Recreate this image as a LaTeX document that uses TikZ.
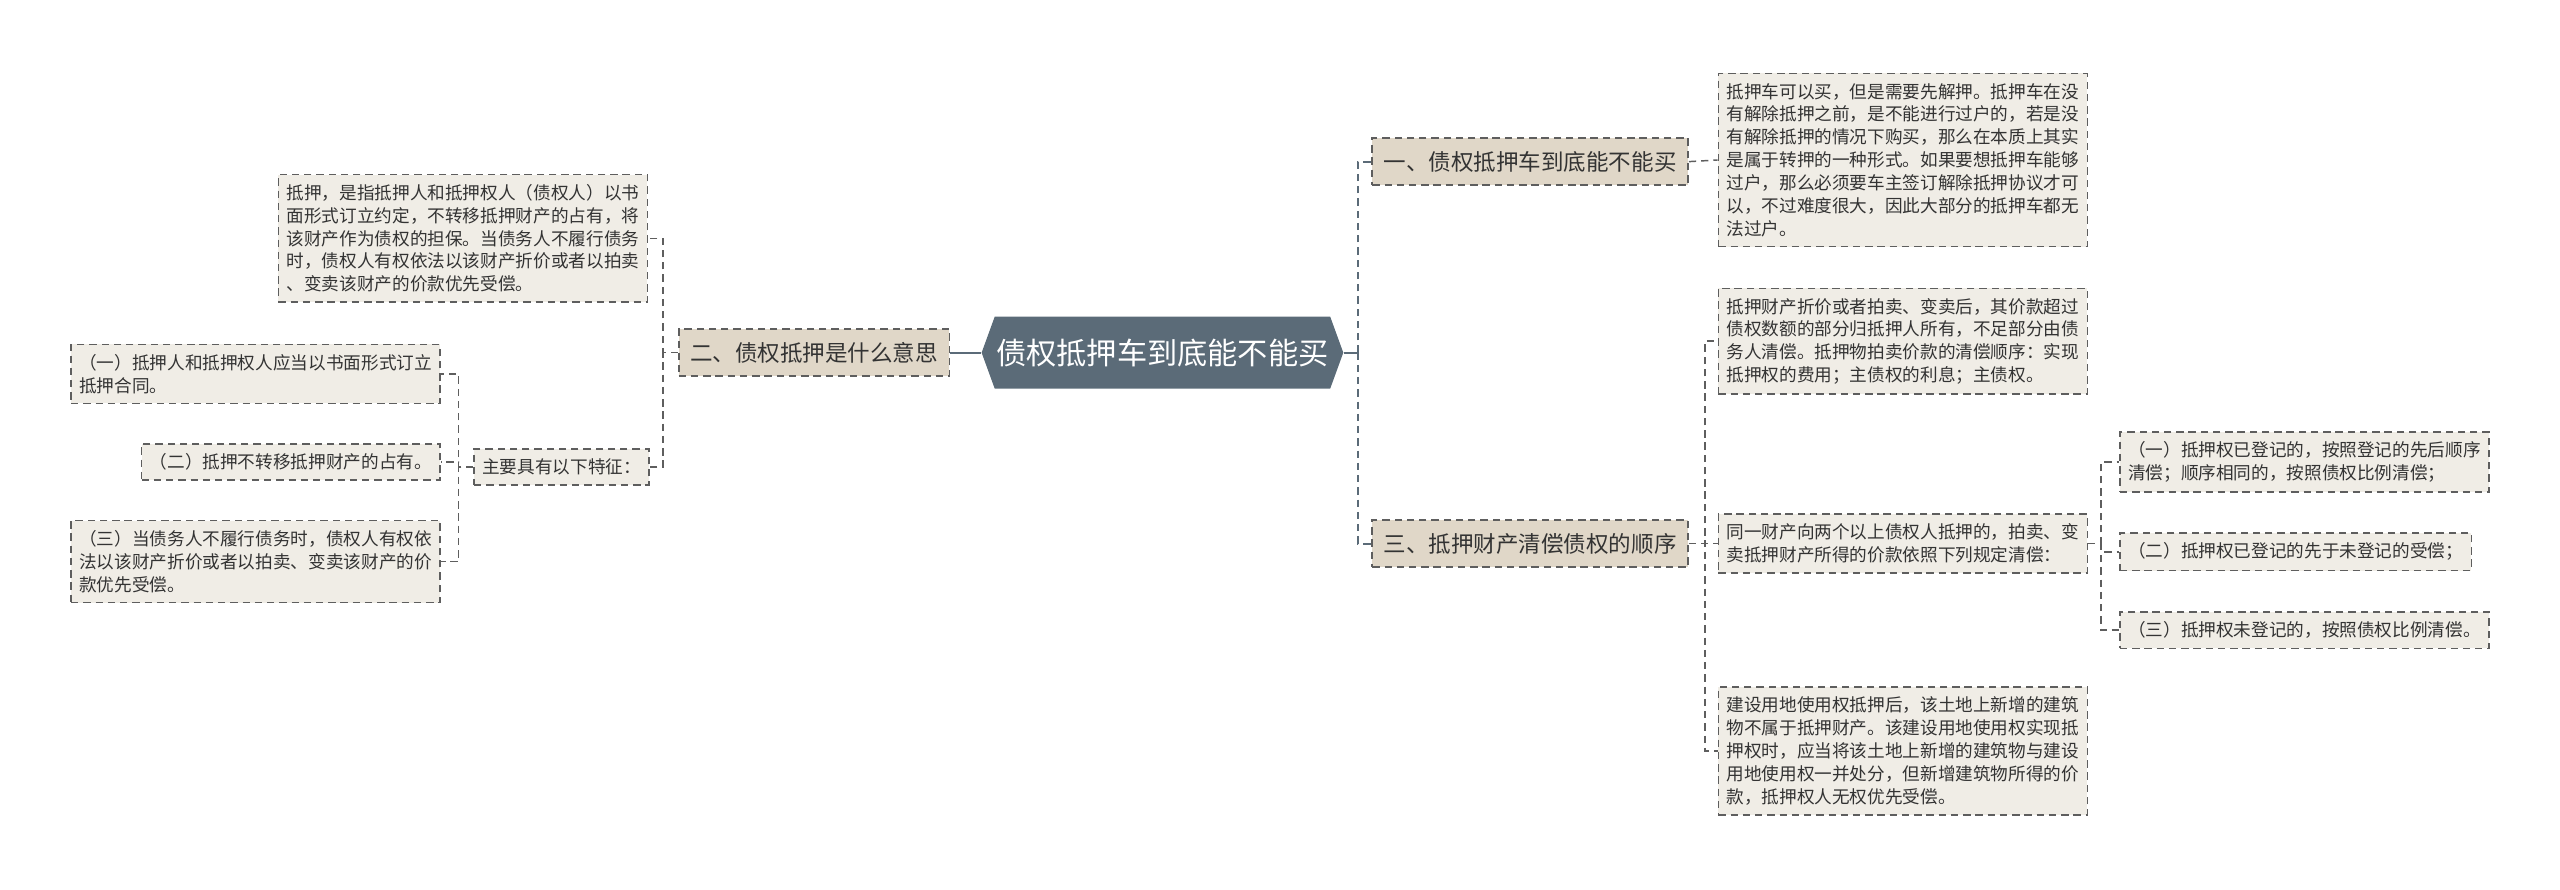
\documentclass[tikz,border=0pt]{standalone}
\usepackage{fontspec}
\setmainfont{Noto Sans CJK SC}
\usetikzlibrary{shapes.symbols}

\definecolor{rootfill}{HTML}{5B6B78}
\definecolor{branchfill}{HTML}{E0D7C8}
\definecolor{leaffill}{HTML}{F0EDE6}
\definecolor{boxline}{HTML}{5E5E5E}
\definecolor{txt}{HTML}{333333}

\begin{document}
\begin{tikzpicture}[x=1pt, y=-1pt,
    rootbox/.style={signal, signal to=west and east, signal pointer angle=140,
        fill=rootfill, text=white, font=\fontsize{18.5}{22}\selectfont,
        minimum height=44pt, inner xsep=1pt},
    branchbox/.style={draw=boxline, dash pattern=on 4.5pt off 3pt, line width=1pt,
        fill=branchfill, text=txt, font=\fontsize{13.8}{16}\selectfont,
        inner xsep=7pt, inner ysep=8pt},
    leafbox/.style={draw=boxline, dash pattern=on 4.5pt off 3pt, line width=0.9pt,
        fill=leaffill, text=txt, align=left, font=\fontsize{10.8}{14}\selectfont,
        inner xsep=5pt, inner ysep=6pt},
    rootline/.style={draw=rootfill, line width=1.2pt},
    link/.style={draw=boxline, dash pattern=on 4.5pt off 3pt, line width=0.9pt}]

    \useasboundingbox (0,0) rectangle (1568,545);

    % 中心主题
    \node[rootbox] (root) at (712,216) {债权抵押车到底能不能买};

    % 右侧分支
    \node[branchbox, anchor=west] (b1) at (840,99) {一、债权抵押车到底能不能买};
    \node[branchbox, anchor=west] (b3) at (840,333) {三、抵押财产清偿债权的顺序};

    \node[leafbox, anchor=west] (r1) at (1052,98) {抵押车可以买，但是需要先解押。抵押车在没\\有解除抵押之前，是不能进行过户的，若是没\\有解除抵押的情况下购买，那么在本质上其实\\是属于转押的一种形式。如果要想抵押车能够\\过户，那么必须要车主签订解除抵押协议才可\\以，不过难度很大，因此大部分的抵押车都无\\法过户。};

    \node[leafbox, anchor=west] (r3a) at (1052,209) {抵押财产折价或者拍卖、变卖后，其价款超过\\债权数额的部分归抵押人所有，不足部分由债\\务人清偿。抵押物拍卖价款的清偿顺序：实现\\抵押权的费用；主债权的利息；主债权。};
    \node[leafbox, anchor=west] (r3b) at (1052,333) {同一财产向两个以上债权人抵押的，拍卖、变\\卖抵押财产所得的价款依照下列规定清偿：};
    \node[leafbox, anchor=west] (r3c) at (1052,460) {建设用地使用权抵押后，该土地上新增的建筑\\物不属于抵押财产。该建设用地使用权实现抵\\押权时，应当将该土地上新增的建筑物与建设\\用地使用权一并处分，但新增建筑物所得的价\\款，抵押权人无权优先受偿。};

    \node[leafbox, anchor=west] (p1) at (1298,283) {（一）抵押权已登记的，按照登记的先后顺序\\清偿；顺序相同的，按照债权比例清偿；};
    \node[leafbox, anchor=west] (p2) at (1298,338) {（二）抵押权已登记的先于未登记的受偿；};
    \node[leafbox, anchor=west] (p3) at (1298,386) {（三）抵押权未登记的，按照债权比例清偿。};

    % 左侧分支
    \node[branchbox, anchor=east] (l0) at (582,216) {二、债权抵押是什么意思};

    \node[leafbox, anchor=east] (l1) at (397,146) {抵押，是指抵押人和抵押权人（债权人）以书\\面形式订立约定，不转移抵押财产的占有，将\\该财产作为债权的担保。当债务人不履行债务\\时，债权人有权依法以该财产折价或者以拍卖\\、变卖该财产的价款优先受偿。};
    \node[leafbox, anchor=east] (l2) at (398,286) {主要具有以下特征：};

    \node[leafbox, anchor=east] (q1) at (270,229) {（一）抵押人和抵押权人应当以书面形式订立\\抵押合同。};
    \node[leafbox, anchor=east] (q2) at (270,283) {（二）抵押不转移抵押财产的占有。};
    \node[leafbox, anchor=east] (q3) at (270,344) {（三）当债务人不履行债务时，债权人有权依\\法以该财产折价或者以拍卖、变卖该财产的价\\款优先受偿。};

    % 连线
    \draw[rootline] (root.west) -- (l0.east);
    \draw[rootline] (root.east) -- ++(9,0) coordinate (rj);
    \foreach \c in {b1,b3}
        \draw[rootline, dash pattern=on 4.5pt off 3pt] (rj) |- (\c.west);

    \draw[link] (b1.east) -- (r1.west);
    \foreach \c in {r3a,r3b,r3c}
        \draw[link] (b3.east) -- ++(10,0) |- (\c.west);
    \foreach \c in {p1,p2,p3}
        \draw[link] (r3b.east) -- ++(8,0) |- (\c.west);

    \foreach \c in {l1,l2}
        \draw[link] (l0.west) -- ++(-9,0) |- (\c.east);
    \foreach \c in {q1,q2,q3}
        \draw[link] (l2.west) -- ++(-9,0) |- (\c.east);
\end{tikzpicture}
\end{document}
